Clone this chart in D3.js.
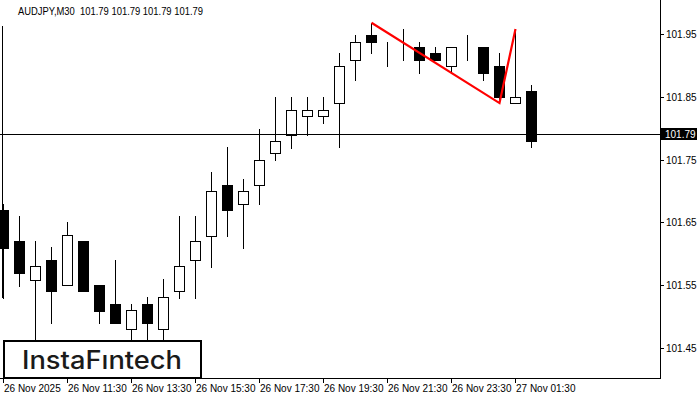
<!DOCTYPE html>
<html><head><meta charset="utf-8">
<script src="https://cdn.jsdelivr.net/npm/d3@7"></script>
<style>
html,body{margin:0;padding:0;background:#fff;}
svg{display:block;font-family:"Liberation Sans",Arial,sans-serif;}
</style></head>
<body>
<svg id="c" width="700" height="400"></svg>
<script>
// OHLC values (index = candle number, M30)
const open  = [101.670,101.620,101.559,101.590,101.550,101.620,101.550,101.520,101.480,101.520,101.480,101.540,101.590,101.629,101.709,101.680,101.709,101.760,101.789,101.819,101.819,101.840,101.908,101.948,101.929,101.938,101.929,101.919,101.899,101.919,101.929,101.899,101.840,101.859];
const high  = [101.680,101.660,101.620,101.611,101.651,101.620,101.550,101.590,101.520,101.531,101.560,101.660,101.660,101.730,101.770,101.719,101.799,101.850,101.850,101.850,101.850,101.919,101.948,101.968,101.938,101.958,101.938,101.929,101.929,101.948,101.929,101.920,101.958,101.868];
const low   = [101.530,101.549,101.440,101.490,101.550,101.540,101.490,101.490,101.440,101.440,101.440,101.530,101.530,101.579,101.629,101.610,101.680,101.749,101.769,101.789,101.809,101.770,101.877,101.919,101.899,101.908,101.888,101.908,101.888,101.908,101.877,101.843,101.840,101.770];
const close = [101.610,101.570,101.581,101.540,101.630,101.540,101.509,101.490,101.511,101.490,101.531,101.581,101.620,101.700,101.669,101.700,101.749,101.779,101.829,101.829,101.829,101.899,101.938,101.938,101.929,101.938,101.908,101.908,101.929,101.919,101.888,101.849,101.849,101.779];
const priceTicks = [101.45,101.55,101.65,101.75,101.85,101.95];
const timeTickIdx = [0,4,8,12,16,20,24,28,32];
const timeLabels = ["26 Nov 2025","26 Nov 11:30","26 Nov 13:30","26 Nov 15:30","26 Nov 17:30","26 Nov 19:30","26 Nov 21:30","26 Nov 23:30","27 Nov 01:30"];
const patternIdx = [23,31,32];
const patternPrice = [101.968,101.840,101.958];
const lastPrice = 101.79;
const title = "AUDJPY,M30  101.79 101.79 101.79 101.79";

const svg = d3.select("#c");
const plotR = 660, plotB = 378;
const x = d3.scaleLinear().domain([0,41]).range([3,659]);
const y = d3.scaleLinear().domain([101.45,101.95]).range([348,34]);
const cr = v => Math.round(v) + 0.5;

const data = open.map((o,i)=>({i,o,h:high[i],l:low[i],c:close[i]}));

const g = svg.append("g");
// left frame edge
g.append("line").attr("x1",2.5).attr("x2",2.5).attr("y1",0).attr("y2",298).attr("stroke","#000");

// candles
const cg = g.selectAll("g.cd").data(data).join("g");
cg.append("line")
  .attr("x1",d=>x(d.i)+0.5).attr("x2",d=>x(d.i)+0.5)
  .attr("y1",d=>Math.round(y(d.h))).attr("y2",d=>Math.round(y(d.l))+1)
  .attr("stroke","#000").attr("stroke-width",1);
cg.append("rect")
  .attr("x",d=>x(d.i)-4.5).attr("width",10)
  .attr("y",d=>cr(y(Math.max(d.o,d.c))))
  .attr("height",d=>Math.max(0,Math.round(y(Math.min(d.o,d.c)))-Math.round(y(Math.max(d.o,d.c)))))
  .attr("fill",d=>d.c<d.o?"#000":"#fff")
  .attr("stroke","#000").attr("stroke-width",1);

// last price line
g.append("line").attr("x1",0).attr("x2",plotR).attr("y1",cr(y(lastPrice))).attr("y2",cr(y(lastPrice)))
  .attr("stroke","#000").attr("stroke-width",1);

// pattern line
const pts = patternIdx.map((k,j)=>[x(k)+0.5, y(patternPrice[j])]);
g.append("path").attr("d",d3.line()(pts)).attr("fill","none").attr("stroke","#ff0000").attr("stroke-width",2.2);

// frame
g.append("line").attr("x1",plotR+0.5).attr("x2",plotR+0.5).attr("y1",0).attr("y2",plotB+1).attr("stroke","#000");
g.append("line").attr("x1",0).attr("x2",plotR+1).attr("y1",plotB+0.5).attr("y2",plotB+0.5).attr("stroke","#000");

// title background + title
g.append("rect").attr("x",0).attr("y",0).attr("width",260).attr("height",26).attr("fill","#fff");
g.append("text").attr("x",18).attr("y",15).attr("font-size",10.5).attr("fill","#000")
  .attr("xml:space","preserve").style("white-space","pre")
  .attr("textLength",185).attr("lengthAdjust","spacingAndGlyphs").text(title);

// right axis
const ya = g.append("g");
ya.selectAll("line").data(priceTicks).join("line")
  .attr("x1",plotR).attr("x2",plotR+4).attr("y1",d=>cr(y(d))).attr("y2",d=>cr(y(d))).attr("stroke","#000");
ya.selectAll("text").data(priceTicks).join("text")
  .attr("x",666).attr("y",d=>y(d)+4).attr("font-size",10).attr("fill","#000")
  .text(d=>d.toFixed(2));
// last price label
g.append("rect").attr("x",661).attr("y",Math.round(y(lastPrice))-6).attr("width",36).attr("height",12).attr("fill","#000");
g.append("text").attr("x",665).attr("y",Math.round(y(lastPrice))+4).attr("font-size",10).attr("fill","#fff").text(lastPrice.toFixed(2));

// bottom axis
const xa = g.append("g");
xa.selectAll("line").data(timeTickIdx).join("line")
  .attr("x1",d=>x(d)+0.5).attr("x2",d=>x(d)+0.5).attr("y1",plotB).attr("y2",plotB+5).attr("stroke","#000");
xa.selectAll("text").data(timeTickIdx).join("text")
  .attr("x",d=>x(d)+1).attr("y",392).attr("font-size",10).attr("fill","#000")
  .text((d,j)=>timeLabels[j]);

// logo
g.append("rect").attr("x",4).attr("y",341).attr("width",197).attr("height",37)
  .attr("fill","#fff").attr("stroke","#000").attr("stroke-width",2);
g.append("text").attr("x",22).attr("y",369).attr("font-family","Inter, 'Noto Sans', sans-serif")
  .attr("font-size",25).attr("font-weight",500).attr("fill","#1a1a1a")
  .attr("textLength",160).attr("lengthAdjust","spacingAndGlyphs").text("InstaFıntech");
</script>
</body></html>
